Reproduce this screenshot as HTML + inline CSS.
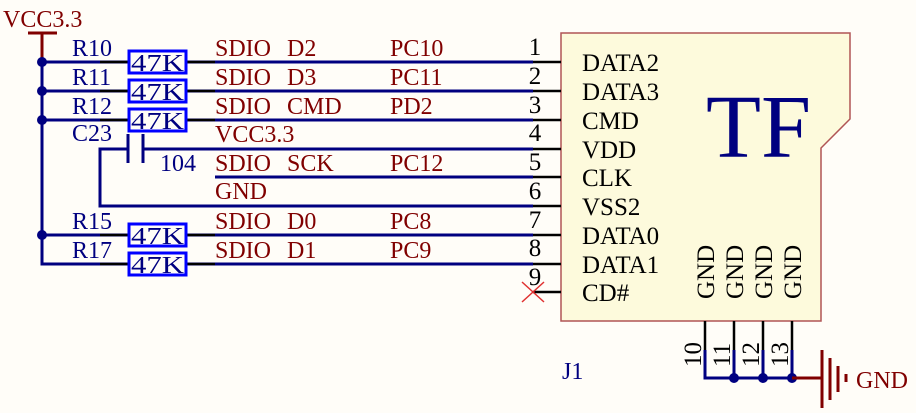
<!DOCTYPE html>
<html><head><style>
body{margin:0;background:#fffdf8;}
svg{display:block;font-family:"Liberation Serif",serif;}
.r{fill:#800000;font-size:24px}
.b{fill:#000080;font-size:24px}
.k{fill:#000;font-size:25px}
</style></head><body>
<svg width="916" height="413" viewBox="0 0 916 413">
<rect width="916" height="413" fill="#fffdf8"/>
<path d="M561,33 L850,33 L850,119 L821,148 L821,321 L561,321 Z" fill="#fdfadc" stroke="#b05555" stroke-width="1.5"/>
<text x="3" y="27" class="r">VCC3.3</text>
<line x1="28" y1="33" x2="57" y2="33" stroke="#800000" stroke-width="3"/>
<line x1="42" y1="33" x2="42" y2="62" stroke="#800000" stroke-width="3"/>
<g stroke="#000080" stroke-width="3" fill="none">
<line x1="42" y1="60" x2="42" y2="264"/>
<line x1="42" y1="62" x2="533" y2="62"/>
<line x1="42" y1="91" x2="533" y2="91"/>
<line x1="42" y1="120" x2="533" y2="120"/>
<line x1="143" y1="149" x2="533" y2="149"/>
<polyline points="128,149 100,149 100,206 533,206"/>
<line x1="215" y1="177" x2="533" y2="177"/>
<line x1="42" y1="235" x2="533" y2="235"/>
<polyline points="42,235 42,264 533,264"/>
<line x1="128" y1="134" x2="128" y2="163"/>
<line x1="143" y1="134" x2="143" y2="163"/>
<polyline points="705,350 705,378 792,378"/>
<line x1="734" y1="350" x2="734" y2="378"/>
<line x1="763" y1="350" x2="763" y2="378"/>
<line x1="792" y1="350" x2="792" y2="378"/>
</g>
<g fill="#000080">
<circle cx="42" cy="62" r="5"/><circle cx="42" cy="91" r="5"/><circle cx="42" cy="120" r="5"/><circle cx="42" cy="235" r="5"/>
<circle cx="734" cy="378" r="5"/><circle cx="763" cy="378" r="5"/><circle cx="792" cy="378" r="5"/>
</g>
<g stroke="#000" stroke-width="2.5">
<line x1="100" y1="62" x2="128" y2="62"/><line x1="187" y1="62" x2="215" y2="62"/>
<line x1="100" y1="91" x2="128" y2="91"/><line x1="187" y1="91" x2="215" y2="91"/>
<line x1="100" y1="120" x2="128" y2="120"/><line x1="187" y1="120" x2="215" y2="120"/>
<line x1="100" y1="235" x2="128" y2="235"/><line x1="187" y1="235" x2="215" y2="235"/>
<line x1="100" y1="264" x2="128" y2="264"/><line x1="187" y1="264" x2="215" y2="264"/>
<line x1="533" y1="62" x2="561" y2="62"/><line x1="533" y1="91" x2="561" y2="91"/>
<line x1="533" y1="120" x2="561" y2="120"/><line x1="533" y1="149" x2="561" y2="149"/>
<line x1="533" y1="177" x2="561" y2="177"/><line x1="533" y1="206" x2="561" y2="206"/>
<line x1="533" y1="235" x2="561" y2="235"/><line x1="533" y1="264" x2="561" y2="264"/>
<line x1="533" y1="292" x2="561" y2="292"/>
<line x1="705" y1="321" x2="705" y2="350"/><line x1="734" y1="321" x2="734" y2="350"/>
<line x1="763" y1="321" x2="763" y2="350"/><line x1="792" y1="321" x2="792" y2="350"/>
</g>
<g stroke="#e03030" stroke-width="1.5"><line x1="522" y1="282" x2="544" y2="302"/><line x1="522" y1="302" x2="544" y2="282"/></g>
<g fill="#fffdf8" stroke="#0000ff" stroke-width="3">
<rect x="129" y="51" width="57" height="22"/><rect x="129" y="80" width="57" height="22"/>
<rect x="129" y="109" width="57" height="22"/><rect x="129" y="224" width="57" height="22"/>
<rect x="129" y="253" width="57" height="22"/>
</g>
<g class="b">
<text x="131" y="71" textLength="53" lengthAdjust="spacingAndGlyphs">47K</text><text x="131" y="100" textLength="53" lengthAdjust="spacingAndGlyphs">47K</text><text x="131" y="129" textLength="53" lengthAdjust="spacingAndGlyphs">47K</text>
<text x="131" y="244" textLength="53" lengthAdjust="spacingAndGlyphs">47K</text><text x="131" y="273" textLength="53" lengthAdjust="spacingAndGlyphs">47K</text>
<text x="72" y="56">R10</text><text x="72" y="85">R11</text><text x="72" y="114">R12</text>
<text x="72" y="141">C23</text><text x="160" y="171">104</text>
<text x="72" y="229">R15</text><text x="72" y="258">R17</text>
<text x="562" y="379">J1</text>
</g>
<g class="r">
<text x="215" y="56">SDIO</text><text x="287" y="56">D2</text><text x="390" y="56">PC10</text>
<text x="215" y="85">SDIO</text><text x="287" y="85">D3</text><text x="390" y="85">PC11</text>
<text x="215" y="114">SDIO</text><text x="287" y="114">CMD</text><text x="390" y="114">PD2</text>
<text x="215" y="142">VCC3.3</text>
<text x="215" y="171">SDIO</text><text x="287" y="171">SCK</text><text x="390" y="171">PC12</text>
<text x="215" y="199">GND</text>
<text x="215" y="229">SDIO</text><text x="287" y="229">D0</text><text x="390" y="229">PC8</text>
<text x="215" y="258">SDIO</text><text x="287" y="258">D1</text><text x="390" y="258">PC9</text>
<text x="856" y="388">GND</text>
</g>
<g class="k" text-anchor="middle">
<text x="535" y="55">1</text><text x="535" y="84">2</text><text x="535" y="113">3</text>
<text x="535" y="141">4</text><text x="535" y="170">5</text><text x="535" y="199">6</text>
<text x="535" y="228">7</text><text x="535" y="256">8</text><text x="535" y="285">9</text>
</g>
<g class="k">
<text x="582" y="71">DATA2</text><text x="582" y="100">DATA3</text><text x="582" y="129">CMD</text>
<text x="582" y="158">VDD</text><text x="582" y="186">CLK</text><text x="582" y="215">VSS2</text>
<text x="582" y="244">DATA0</text><text x="582" y="273">DATA1</text><text x="582" y="301">CD#</text>
<text transform="translate(714,299) rotate(-90)">GND</text>
<text transform="translate(743,299) rotate(-90)">GND</text>
<text transform="translate(772,299) rotate(-90)">GND</text>
<text transform="translate(801,299) rotate(-90)">GND</text>
<text transform="translate(701,367) rotate(-90)">10</text>
<text transform="translate(730,367) rotate(-90)">11</text>
<text transform="translate(759,367) rotate(-90)">12</text>
<text transform="translate(788,367) rotate(-90)">13</text>
</g>
<text x="706" y="157" fill="#000080" font-size="90">TF</text>
<g stroke="#800000" stroke-width="3">
<line x1="792" y1="378" x2="822" y2="378"/>
<line x1="822" y1="350" x2="822" y2="408"/>
<line x1="830" y1="358" x2="830" y2="400"/>
<line x1="838" y1="366" x2="838" y2="392"/>
<line x1="846" y1="374" x2="846" y2="382"/>
</g>
</svg>
</body></html>
